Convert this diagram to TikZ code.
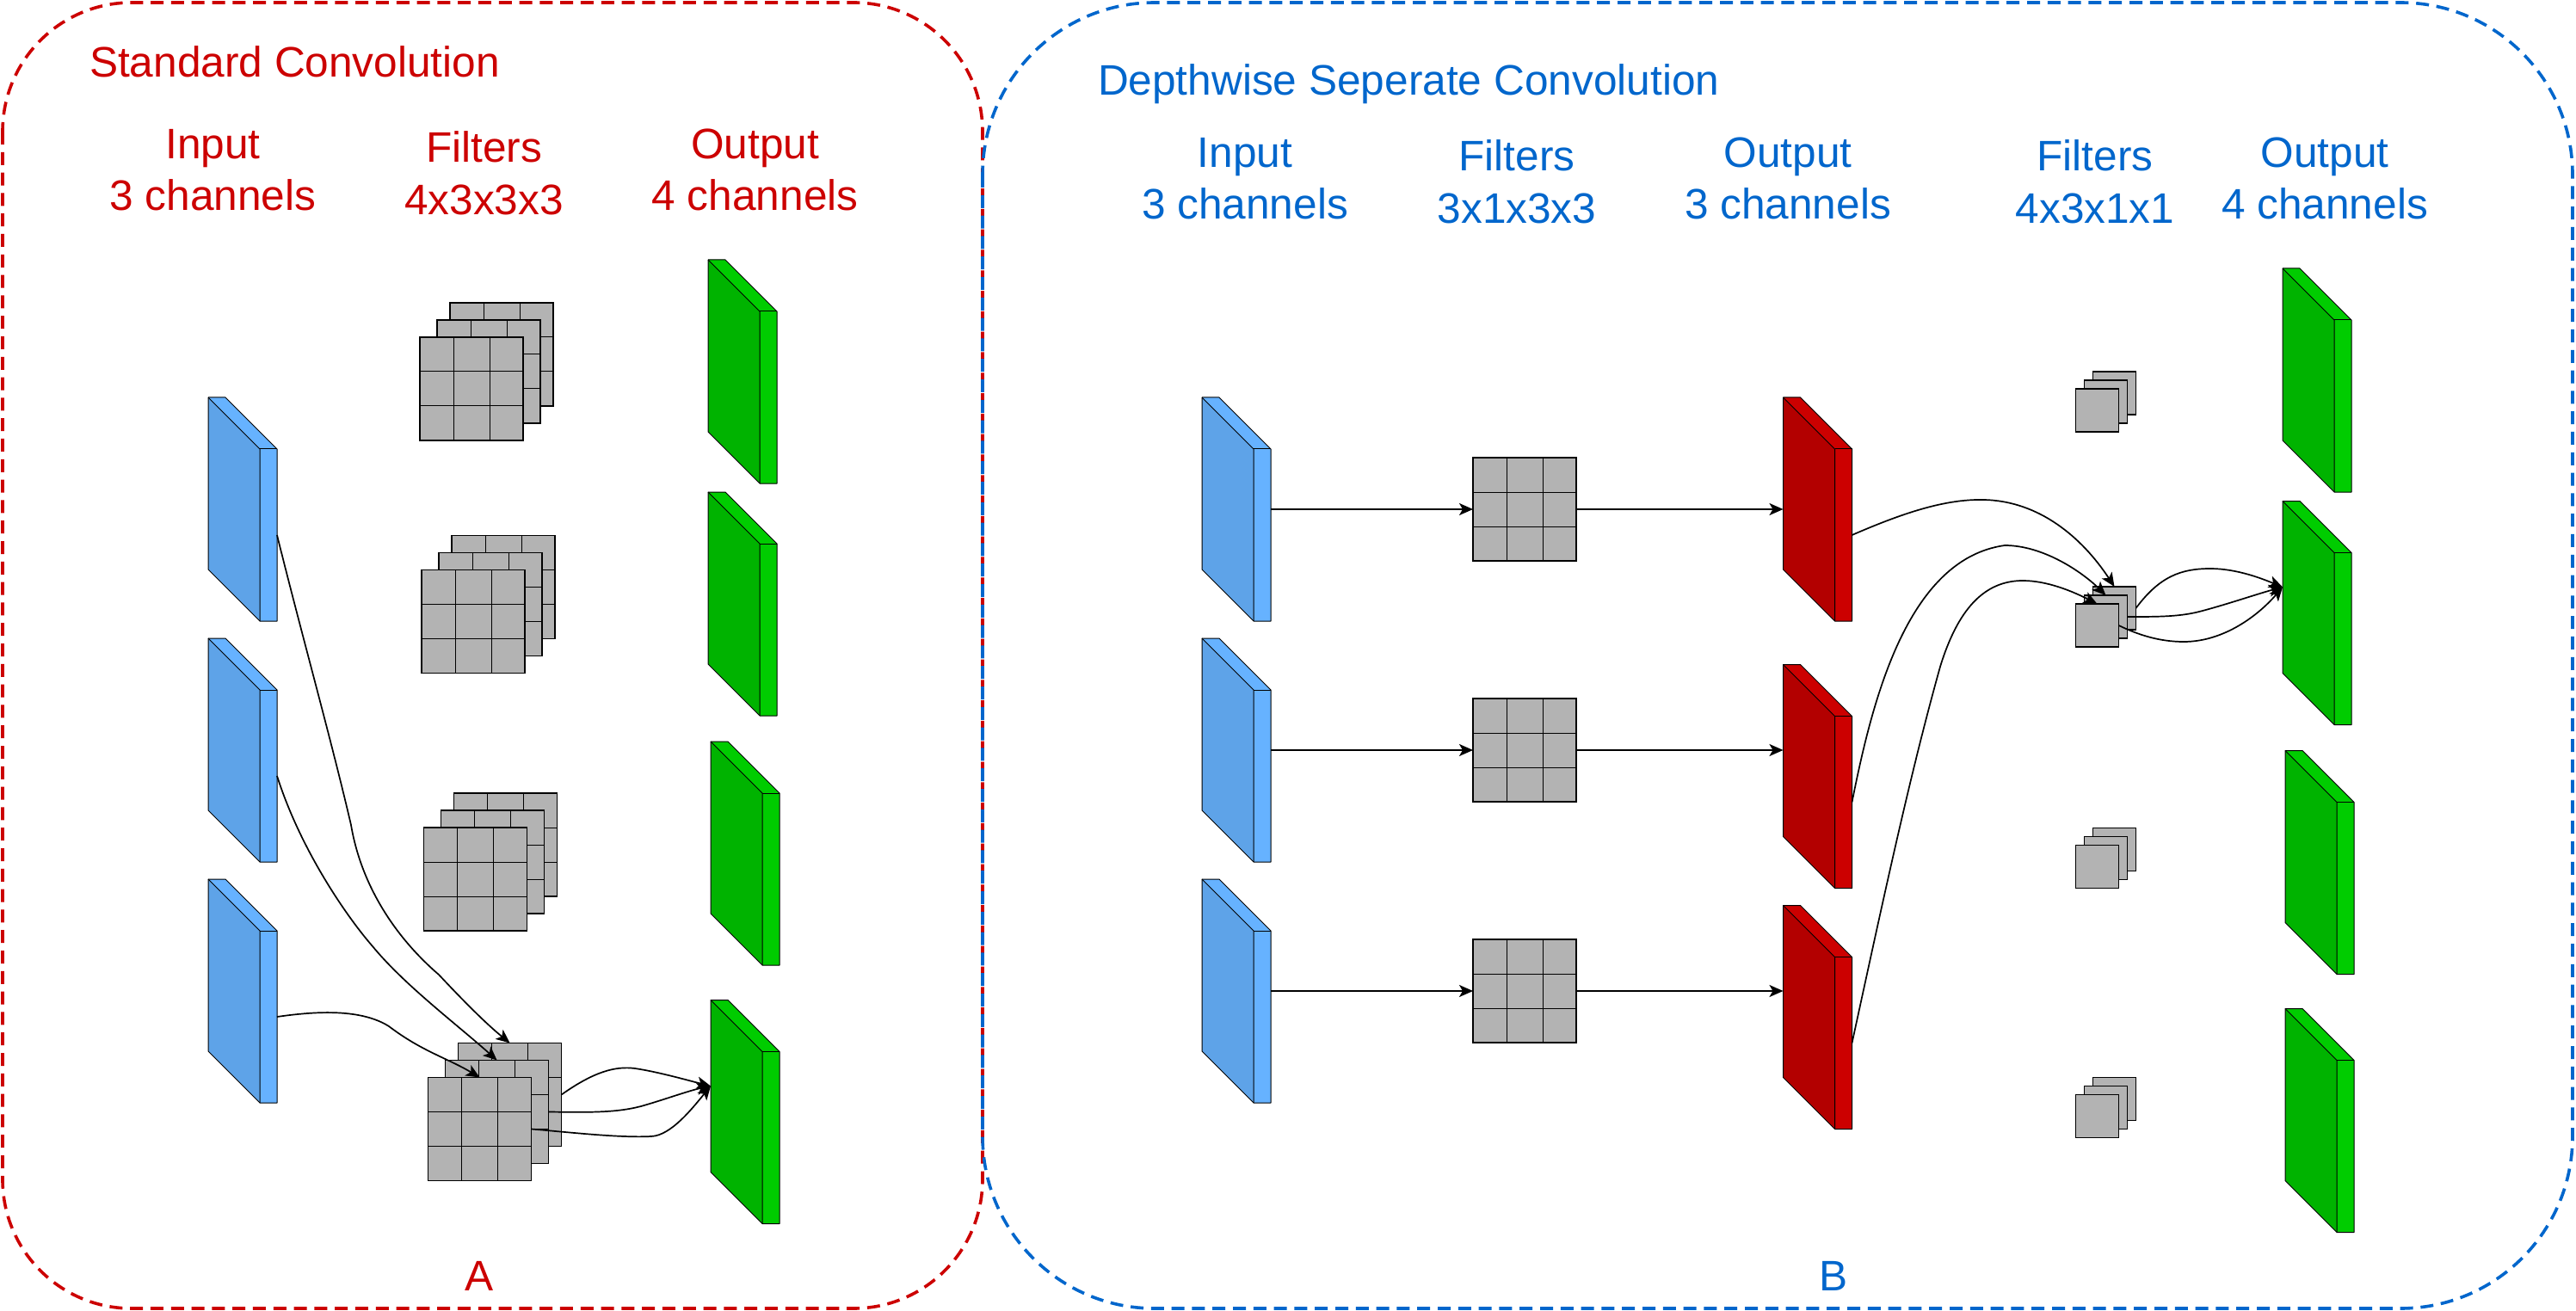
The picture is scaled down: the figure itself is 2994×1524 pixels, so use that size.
\documentclass[tikz,border=0pt]{standalone}
\usepackage{fontspec}
\setmainfont{Liberation Sans}
\usetikzlibrary{arrows.meta}
\definecolor{redtxt}{HTML}{CC0000}
\definecolor{bluetxt}{HTML}{0066CC}
\definecolor{inlight}{HTML}{66B2FF}
\definecolor{indark}{HTML}{5EA3E8}
\definecolor{grnlight}{HTML}{00CC00}
\definecolor{grndark}{HTML}{00B300}
\definecolor{redlight}{HTML}{CC0000}
\definecolor{reddark}{HTML}{B30000}
\definecolor{sheetgray}{HTML}{B3B3B3}
\tikzset{
  x=0.5pt,y=-0.5pt,
  panel/.style={draw,line width=1.8pt,dash pattern=on 7.5pt off 4.4pt},
  label/.style={font=\fontsize{24.8}{30}\selectfont,align=center,inner sep=0pt,outer sep=0pt},
  sheetbig/.style={draw=black,fill=sheetgray,line width=0.7pt,minimum width=60pt,minimum height=60pt,inner sep=0pt,outer sep=0pt,anchor=north west},
  sheetsmall/.style={draw=black,fill=sheetgray,line width=0.7pt,minimum width=25pt,minimum height=25pt,inner sep=0pt,outer sep=0pt,anchor=north west},
  gridline/.style={draw=black,line width=0.5pt},
  slabface/.style={draw=black,line width=0.5pt,line join=round},
  slabbox/.style={minimum width=40pt,minimum height=130pt,inner sep=0pt,outer sep=0pt,anchor=north west},
  conn/.style={draw=black,line width=0.85pt,-{Stealth[length=8pt,width=7pt,inset=2pt]}},
}
% slab: name, x, y, dark colour, light colour
\newcommand{\slabat}[5]{%
  \node[slabbox] (#1) at (#2,#3) {};
  \coordinate (#1-in) at (#2,#3+100);
  \coordinate (#1-out) at (#2+80,#3+160);
  \fill[#4] (#2,#3) -- (#2+60,#3+60) -- (#2+60,#3+260) -- (#2,#3+200) -- cycle;
  \fill[#5] (#2,#3) -- (#2+20,#3) -- (#2+80,#3+60) -- (#2+80,#3+260) -- (#2+60,#3+260) -- (#2+60,#3+60) -- cycle;
  \draw[slabface] (#2,#3) -- (#2+20,#3) -- (#2+80,#3+60) -- (#2+80,#3+260) -- (#2+60,#3+260) -- (#2,#3+200) -- cycle;
  \draw[slabface] (#2,#3) -- (#2+60,#3+60) -- (#2+60,#3+260);
  \draw[slabface] (#2+60,#3+60) -- (#2+80,#3+60);
}
% one 3x3 sheet
\newcommand{\gridsheet}[3]{%
  \node[sheetbig] (#1) at (#2,#3) {};
  \draw[gridline] (#2+39,#3) -- (#2+39,#3+120);
  \draw[gridline] (#2+81,#3) -- (#2+81,#3+120);
  \draw[gridline] (#2,#3+40) -- (#2+120,#3+40);
  \draw[gridline] (#2,#3+80) -- (#2+120,#3+80);
}
% stack of three 3x3 sheets (front position given)
\newcommand{\gridstack}[3]{%
  \gridsheet{#1b}{#2+35}{#3-40}
  \gridsheet{#1m}{#2+20}{#3-20}
  \gridsheet{#1f}{#2}{#3}
}
\newcommand{\smallstack}[3]{%
  \node[sheetsmall] (#1b) at (#2+20,#3-20) {};
  \node[sheetsmall] (#1m) at (#2+10,#3-10) {};
  \node[sheetsmall] (#1f) at (#2,#3) {};
}
\begin{document}
\begin{tikzpicture}
\useasboundingbox (0,0) rectangle (2994,1524);
% panels
\draw[panel,draw=redtxt,rounded corners=75pt] (3,3) rectangle (1142,1521);
\draw[panel,draw=bluetxt,rounded corners=100pt] (1142,3) rectangle (2990,1521);
% text: A
\node[label,text=redtxt,anchor=base west] (ta) at (104,90) {Standard Convolution};
\node[label,text=redtxt,anchor=base] (ta1) at (247.5,185) {Input};
\node[label,text=redtxt,anchor=base] (ta2) at (247.5,245) {3 channels};
\node[label,text=redtxt,anchor=base] (ta3) at (562.6,189) {Filters};
\node[label,text=redtxt,anchor=base] (ta4) at (562.6,250) {4x3x3x3};
\node[label,text=redtxt,anchor=base] (ta5) at (877.6,185) {Output};
\node[label,text=redtxt,anchor=base] (ta6) at (877.6,245) {4 channels};
\node[label,text=redtxt,anchor=base] (ta7) at (557,1500) {A};
% text: B
\node[label,text=bluetxt,anchor=base west] (tb) at (1276,111) {Depthwise Seperate Convolution};
\node[label,text=bluetxt,anchor=base] (tb1) at (1447,195) {Input};
\node[label,text=bluetxt,anchor=base] (tb2) at (1447,255) {3 channels};
\node[label,text=bluetxt,anchor=base] (tb3) at (1763,199) {Filters};
\node[label,text=bluetxt,anchor=base] (tb4) at (1763,260) {3x1x3x3};
\node[label,text=bluetxt,anchor=base] (tb5) at (2078,195) {Output};
\node[label,text=bluetxt,anchor=base] (tb6) at (2078,255) {3 channels};
\node[label,text=bluetxt,anchor=base] (tb7) at (2435,199) {Filters};
\node[label,text=bluetxt,anchor=base] (tb8) at (2435,260) {4x3x1x1};
\node[label,text=bluetxt,anchor=base] (tb9) at (2702,195) {Output};
\node[label,text=bluetxt,anchor=base] (tb10) at (2702,255) {4 channels};
\node[label,text=bluetxt,anchor=base] (tb11) at (2131,1500) {B};
% A slabs
\slabat{ai1}{242}{462}{indark}{inlight}
\slabat{ai2}{242}{742}{indark}{inlight}
\slabat{ai3}{242}{1022}{indark}{inlight}
\slabat{ao1}{823}{302}{grndark}{grnlight}
\slabat{ao2}{823}{572}{grndark}{grnlight}
\slabat{ao3}{826}{862}{grndark}{grnlight}
\slabat{ao4}{826}{1162.5}{grndark}{grnlight}
% A filters
\gridstack{fa}{488}{392}
\gridstack{fc}{490}{662.5}
\gridstack{fd}{492.5}{962}
\gridstack{fe}{497.6}{1252.5}
% B slabs
\slabat{bi1}{1397}{462}{indark}{inlight}
\slabat{bi2}{1397}{742}{indark}{inlight}
\slabat{bi3}{1397}{1022}{indark}{inlight}
\slabat{br1}{2072.5}{462}{reddark}{redlight}
\slabat{br2}{2072.5}{772.5}{reddark}{redlight}
\slabat{br3}{2072.5}{1052.5}{reddark}{redlight}
\slabat{bo1}{2653}{312}{grndark}{grnlight}
\slabat{bo2}{2653}{582.5}{grndark}{grnlight}
\slabat{bo3}{2656}{872.5}{grndark}{grnlight}
\slabat{bo4}{2656}{1172.5}{grndark}{grnlight}
% B filters
\gridsheet{g1}{1712}{532}
\gridsheet{g2}{1712}{812}
\gridsheet{g3}{1712}{1092}
\smallstack{s1}{2412.5}{452}
\smallstack{s2}{2412.5}{702}
\smallstack{s3}{2412.5}{982.5}
\smallstack{s4}{2412.5}{1272.5}
% A connectors
\draw[conn] (ai1-out) .. controls (350,735) and (385,860) .. (408,959) .. controls (420,1030) and (460,1090) .. (510,1133) .. controls (540,1165) and (565,1190) .. (feb.north);
\draw[conn] (ai2-out) .. controls (350,990) and (405,1068) .. (433,1100) .. controls (470,1145) and (530,1190) .. (fem.north);
\draw[conn] (ai3-out) .. controls (370,1175) and (420,1173) .. (452,1193) .. controls (490,1222) and (520,1230) .. (fef.north);
\draw[conn] (feb.east) .. controls (690,1246) and (715,1239) .. (738,1242) .. controls (765,1246) and (800,1256) .. (ao4-in);
\draw[conn] (fem.east) .. controls (680,1293) and (715,1294) .. (745,1286) .. controls (770,1279) and (800,1268) .. (ao4-in);
\draw[conn] (fef.east) .. controls (660,1316) and (720,1323) .. (757,1321) .. controls (780,1320) and (805,1288) .. (ao4-in);
% B straight connectors
\draw[conn] (bi1.east) -- (g1.west);
\draw[conn] (bi2.east) -- (g2.west);
\draw[conn] (bi3.east) -- (g3.west);
\draw[conn] (g1.east) -- (g1.east -| br1.west);
\draw[conn] (g2.east) -- (g2.east -| br2.west);
\draw[conn] (g3.east) -- (g3.east -| br3.west);
% B curved connectors
\draw[conn] (br1-out) .. controls (2210,597) and (2260,580) .. (2305,581) .. controls (2370,582) and (2420,625) .. (s2b.north);
\draw[conn] (br2-out) .. controls (2175,820) and (2215,650) .. (2330,634) .. controls (2375,634) and (2420,665) .. (s2m.north);
\draw[conn] (br3-out) .. controls (2190,1040) and (2220,900) .. (2255,775) .. controls (2275,710) and (2305,675) .. (2351,675) .. controls (2380,675) and (2410,688) .. (s2f.north);
\draw[conn] (s2b.east) .. controls (2510,670) and (2535,661) .. (2569,661) .. controls (2600,661) and (2630,673) .. (bo2-in);
\draw[conn] (s2m.east) .. controls (2510,717) and (2535,717) .. (2560,710) .. controls (2590,702) and (2625,690) .. (bo2-in);
\draw[conn] (s2f.east) .. controls (2485,738) and (2510,746) .. (2538,746) .. controls (2585,746) and (2625,715) .. (bo2-in);
\end{tikzpicture}
\end{document}
